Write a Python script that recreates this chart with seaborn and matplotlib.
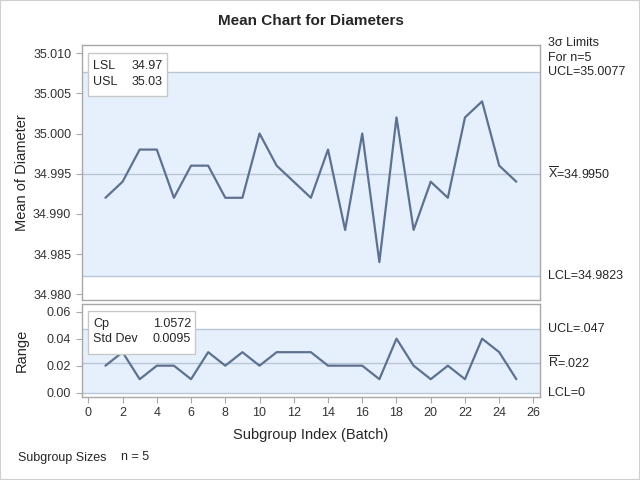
import numpy as np
import pandas as pd
import matplotlib
matplotlib.use('Agg')
import matplotlib.pyplot as plt
import seaborn as sns

# data
batch = list(range(1, 26))
means = [34.992, 34.994, 34.998, 34.998, 34.992, 34.996, 34.996, 34.992, 34.992, 35.000,
         34.996, 34.994, 34.992, 34.998, 34.988, 35.000, 34.984, 35.002, 34.988, 34.994,
         34.992, 35.002, 35.004, 34.996, 34.994]
ranges = [0.02, 0.03, 0.01, 0.02, 0.02, 0.01, 0.03, 0.02, 0.03, 0.02,
          0.03, 0.03, 0.03, 0.02, 0.02, 0.02, 0.01, 0.04, 0.02, 0.01,
          0.02, 0.01, 0.04, 0.03, 0.01]
x_ucl, x_center, x_lcl = 35.0077, 34.9950, 34.9823
r_ucl, r_center, r_lcl = 0.047, 0.022, 0.0
spec_rows = [('LSL', '34.97'), ('USL', '35.03')]
stat_rows = [('Cp', '1.0572'), ('Std Dev', '0.0095')]

df = pd.DataFrame({'batch': batch, 'mean': means, 'range': ranges})

sns.set_style('white')
plt.rcParams['font.family'] = ['Liberation Sans', 'DejaVu Sans']
plt.rcParams['mathtext.fontset'] = 'custom'
plt.rcParams['mathtext.rm'] = 'Liberation Sans'

line_col = '#5d7190'
band_col = '#e6f0fc'
edge_col = '#b9c6d6'
frame_col = '#a8a8a8'

fig = plt.figure(figsize=(6.4, 4.8), dpi=100)
ax1 = fig.add_axes([0.1277, 0.375, 0.716, 0.532])
ax2 = fig.add_axes([0.1277, 0.1729, 0.716, 0.1938], sharex=ax1)

# mean chart
ax1.axhspan(x_lcl, x_ucl, color=band_col, zorder=0, lw=0)
for v in (x_lcl, x_ucl, x_center):
    ax1.axhline(v, color=edge_col, lw=1, zorder=1)
sns.lineplot(data=df, x='batch', y='mean', ax=ax1, color=line_col, lw=1.6, zorder=3)
ax1.set_ylim(34.97928, 35.01106)
ax1.set_yticks([34.980, 34.985, 34.990, 34.995, 35.000, 35.005, 35.010])
ax1.set_yticklabels([f'{v:.3f}' for v in ax1.get_yticks()])
ax1.set_ylabel('Mean of Diameter', fontsize=10.5)
ax1.set_xlabel('')
ax1.tick_params(axis='x', bottom=False, labelbottom=False)
ax1.set_title('Mean Chart for Diameters', fontsize=11, fontweight='bold', pad=14)

# range chart
ax2.axhspan(r_lcl, r_ucl, color=band_col, zorder=0, lw=0)
for v in (r_lcl, r_ucl, r_center):
    ax2.axhline(v, color=edge_col, lw=1, zorder=1)
sns.lineplot(data=df, x='batch', y='range', ax=ax2, color=line_col, lw=1.6, zorder=3)
ax2.set_ylim(-0.0032, 0.0657)
ax2.set_yticks([0.00, 0.02, 0.04, 0.06])
ax2.set_yticklabels([f'{v:.2f}' for v in ax2.get_yticks()])
ax2.set_xlim(-0.385, 26.38)
ax2.set_xticks(range(0, 27, 2))
ax2.set_ylabel('Range', fontsize=10.5)
ax2.set_xlabel('Subgroup Index (Batch)', fontsize=10.5, labelpad=6)

for ax in (ax1, ax2):
    for s in ax.spines.values():
        s.set_color(frame_col)
        s.set_linewidth(1)
    ax.tick_params(axis='both', labelsize=9, colors='#333333', length=4, width=0.8,
                   direction='out', left=True, color=frame_col)
    ax.yaxis.set_label_coords(-0.116, 0.5)
ax2.tick_params(axis='x', bottom=True)

# control limit labels on the right
tr1 = ax1.get_yaxis_transform()
tr2 = ax2.get_yaxis_transform()
xr = 1.018
fs = 9
ax1.text(xr, 35.0077, 'UCL=35.0077', transform=tr1, va='center', fontsize=fs)
ax1.text(xr, x_center, r'$\overline{\mathrm{X}}$=34.9950', transform=tr1, va='center', fontsize=fs)
ax1.text(xr, x_lcl, 'LCL=34.9823', transform=tr1, va='center', fontsize=fs)
ax1.text(xr, 1.005, '3σ Limits', transform=ax1.transAxes, va='center', fontsize=fs)
ax1.text(xr, 0.948, 'For n=5', transform=ax1.transAxes, va='center', fontsize=fs)
ax2.text(xr, r_ucl, 'UCL=.047', transform=tr2, va='center', fontsize=fs)
ax2.text(xr, r_center, r'$\overline{\mathrm{R}}$=.022', transform=tr2, va='center', fontsize=fs)
ax2.text(xr, r_lcl, 'LCL=0', transform=tr2, va='center', fontsize=fs)


def inset_table(rows, x0, y0, x1, y1, row_y):
    # box given in figure pixels, converted to figure fraction
    W, H = 640, 480
    rect = plt.Rectangle((x0 / W, 1 - y1 / H), (x1 - x0) / W, (y1 - y0) / H,
                         transform=fig.transFigure, facecolor='white',
                         edgecolor='#c8c8c8', lw=1, zorder=5)
    fig.add_artist(rect)
    for (k, v), yy in zip(rows, row_y):
        fig.text((x0 + 5) / W, 1 - yy / H, k, va='center', ha='left', fontsize=fs, zorder=6)
        fig.text((x1 - 4) / W, 1 - yy / H, v, va='center', ha='right', fontsize=fs, zorder=6)


inset_table(spec_rows, 88, 53, 167, 96, [66, 82])
inset_table(stat_rows, 88, 311, 195, 354, [324, 339])

fig.text(18 / 640, 1 - 458 / 480, 'Subgroup Sizes', fontsize=9, va='center')
fig.text(121 / 640, 1 - 457 / 480, 'n = 5', fontsize=9, va='center')

fig.add_artist(plt.Rectangle((0, 0), 1, 1, transform=fig.transFigure, fill=False,
                             edgecolor='#d0d0d0', lw=1.5))

fig.savefig('out.png', dpi=100)
